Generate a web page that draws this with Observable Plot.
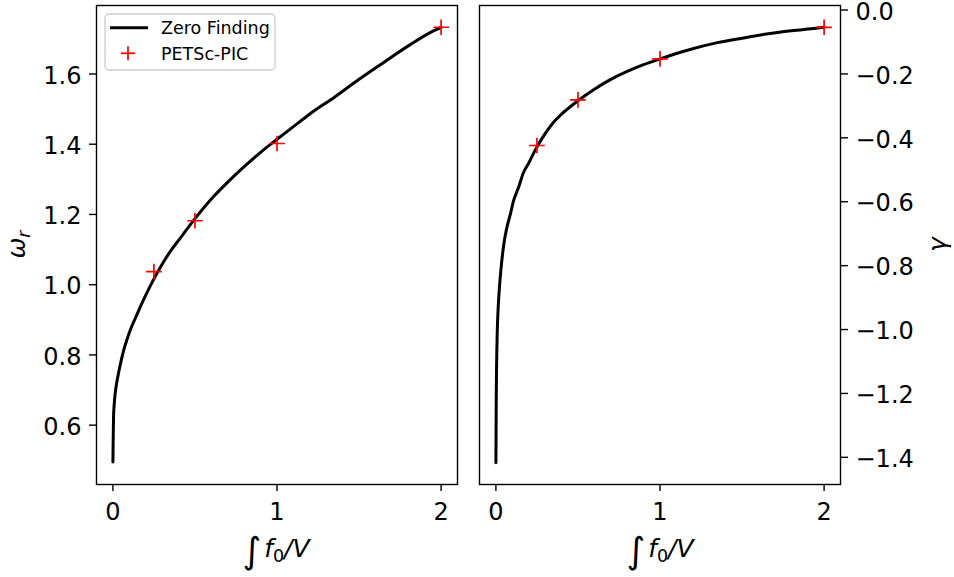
<!DOCTYPE html>
<html>
<head>
<meta charset="utf-8">
<script src="https://cdn.jsdelivr.net/npm/d3@7"></script>
<script src="https://cdn.jsdelivr.net/npm/@observablehq/plot@0.6"></script>
<style>
  html, body { margin: 0; padding: 0; background: #fff; }
  #chart { position: relative; width: 954px; height: 577px; background: #fff; }
  #chart svg { position: absolute; top: 0; overflow: visible; }
  #chart [aria-label*="axis"] line, #chart [aria-label*="axis"] path { stroke-width: 1.4px; }
</style>
</head>
<body>
<div id="chart"></div>
<script>
// ---- Data ----
const density = [0, 0.002, 0.004, 0.008, 0.014, 0.022, 0.035, 0.05, 0.065, 0.09, 0.106, 0.14, 0.167, 0.2, 0.238, 0.3, 0.35, 0.4, 0.5, 0.6, 0.7, 0.8, 0.9, 1.0, 1.1, 1.2, 1.35, 1.5, 1.65, 1.8, 1.95, 2.0];
const omegaZero = [0.495, 0.57, 0.625, 0.66, 0.691, 0.717, 0.750, 0.783, 0.812, 0.850, 0.871, 0.908, 0.937, 0.970, 1.006, 1.058, 1.095, 1.126, 1.188, 1.244, 1.292, 1.336, 1.377, 1.414, 1.450, 1.486, 1.534, 1.585, 1.633, 1.680, 1.722, 1.733];
const gammaZero = [-1.417, -1.219, -1.12, -1.010, -0.93, -0.865, -0.79, -0.727, -0.685, -0.635, -0.600, -0.552, -0.510, -0.479, -0.44, -0.387, -0.352, -0.326, -0.284, -0.248, -0.217, -0.192, -0.171, -0.153, -0.136, -0.121, -0.102, -0.088, -0.075, -0.065, -0.057, -0.054];

const picDensity = [0.25, 0.5, 1, 2];
const picOmega = [1.037, 1.182, 1.402, 1.733];
const picGamma = [-0.424, -0.281, -0.153, -0.054];

const xTicks = [0, 1, 2];
const omegaTicks = [0.6, 0.8, 1.0, 1.2, 1.4, 1.6];
const gammaTicks = [0.0, -0.2, -0.4, -0.6, -0.8, -1.0, -1.2, -1.4];

const legendLabels = ["Zero Finding", "PETSc-PIC"];

// ---- Tables ----
const curve = density.map((d, i) => ({x: d, omega: omegaZero[i], gamma: gammaZero[i]}));
const pic = picDensity.map((d, i) => ({x: d, omega: picOmega[i], gamma: picGamma[i]}));

const fmt = d => d.toFixed(1).replace("-", "\u2212");
const font = "DejaVu Sans, sans-serif";
const common = {
  height: 577,
  marginTop: 5,
  marginBottom: 93,
  style: {fontFamily: font, fontSize: "24px", color: "black", background: "transparent", overflow: "visible"}
};
const xScale = {domain: [-0.1, 2.1], ticks: xTicks, tickFormat: d => String(d), tickSize: 7, tickPadding: 11, label: null};

const left = Plot.plot({
  ...common,
  width: 470,
  marginLeft: 96,
  marginRight: 13,
  x: xScale,
  y: {domain: [0.431, 1.795], ticks: omegaTicks, tickFormat: fmt, tickSize: 7, tickPadding: 8, label: null},
  marks: [
    Plot.line(curve, {x: "x", y: "omega", stroke: "black", strokeWidth: 3, curve: "monotone-x"}),
    Plot.dot(pic, {x: "x", y: "omega", symbol: "plus", r: 5.1, stroke: "red", strokeWidth: 1.7}),
    Plot.frame({stroke: "black", strokeWidth: 1.4})
  ]
});

const right = Plot.plot({
  ...common,
  width: 484,
  marginLeft: 9,
  marginRight: 114,
  x: xScale,
  y: {domain: [-1.485, 0.0142], ticks: gammaTicks, tickFormat: fmt, axis: "right", tickSize: 7, tickPadding: 8, label: null},
  marks: [
    Plot.line(curve, {x: "x", y: "gamma", stroke: "black", strokeWidth: 3, curve: "monotone-x"}),
    Plot.dot(pic, {x: "x", y: "gamma", symbol: "plus", r: 5.1, stroke: "red", strokeWidth: 1.7}),
    Plot.frame({stroke: "black", strokeWidth: 1.4})
  ]
});

const chart = document.getElementById("chart");
left.style.left = "0px";
right.style.left = "470px";
chart.appendChild(left);
chart.appendChild(right);

// nudge y tick labels ~2px down (matplotlib centring)
for (const svg of [left, right]) {
  d3.select(svg).selectAll('g[aria-label^="y-axis"] text').each(function() {
    const t = this.getAttribute("transform") || "";
    this.setAttribute("transform", (t + " translate(0,2)").trim());
  });
}

// ---- Axis labels (mathtext-like) ----
function xLabel(svg, cx) {
  const t = d3.select(svg).append("text")
    .attr("x", cx).attr("y", 557).attr("text-anchor", "middle")
    .attr("font-family", font).attr("font-size", 25).attr("fill", "black");
  t.append("tspan").attr("font-size", 36).attr("dy", 6).text("\u222B");
  t.append("tspan").attr("font-style", "italic").attr("dx", 3).attr("dy", -6).text("f");
  t.append("tspan").attr("font-size", 17.5).attr("dy", 5).text("0");
  t.append("tspan").attr("font-style", "italic").attr("dy", -5).text("/V");
}
xLabel(left, 276);
xLabel(right, 190);

const yl = d3.select(left).append("text")
  .attr("transform", "translate(25,244.5) rotate(-90)")
  .attr("text-anchor", "middle").attr("font-family", font).attr("font-size", 25).attr("fill", "black");
yl.append("tspan").attr("font-style", "italic").text("\u03C9");
yl.append("tspan").attr("font-style", "italic").attr("font-size", 17.5).attr("dy", 5).text("r");

d3.select(right).append("text")
  .attr("transform", "translate(476,244.5) rotate(-90)")
  .attr("text-anchor", "middle").attr("font-family", font).attr("font-size", 25).attr("font-style", "italic").attr("fill", "black")
  .text("\u03B3");

// ---- Legend ----
const lg = d3.select(left).append("g").attr("font-family", font).attr("font-size", 17.5).attr("text-anchor", "start");
lg.append("rect").attr("x", 105).attr("y", 14).attr("width", 170).attr("height", 56).attr("rx", 4)
  .attr("fill", "white").attr("fill-opacity", 0.8).attr("stroke", "#cccccc").attr("stroke-width", 1.3);
lg.append("line").attr("x1", 110).attr("x2", 148).attr("y1", 27.7).attr("y2", 27.7).attr("stroke", "black").attr("stroke-width", 3);
lg.append("line").attr("x1", 121).attr("x2", 135).attr("y1", 53.3).attr("y2", 53.3).attr("stroke", "red").attr("stroke-width", 1.7);
lg.append("line").attr("x1", 128).attr("x2", 128).attr("y1", 46.3).attr("y2", 60.3).attr("stroke", "red").attr("stroke-width", 1.7);
lg.append("text").attr("x", 161).attr("y", 34.3).attr("fill", "black").attr("text-anchor", "start").text(legendLabels[0]);
lg.append("text").attr("x", 161).attr("y", 60).attr("fill", "black").attr("text-anchor", "start").text(legendLabels[1]);
</script>
</body>
</html>
